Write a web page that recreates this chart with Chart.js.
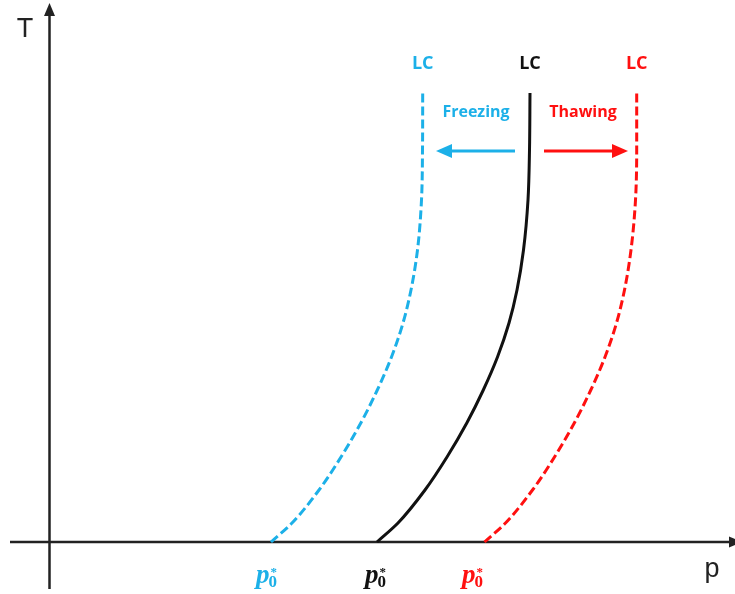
<!DOCTYPE html>
<html>
<head>
<meta charset="utf-8">
<script src="https://cdn.jsdelivr.net/npm/chart.js@4.4.0/dist/chart.umd.min.js"></script>
<style>
  html, body { margin: 0; padding: 0; background: #fff; }
  #wrap { width: 735px; height: 594px; position: relative; }
</style>
</head>
<body>
<div id="wrap"><canvas id="chart"></canvas></div>
<script>
// curves: T levels (y) and p for each curve (x), arbitrary units
const levelT = [0, 19, 52, 85, 119, 152, 185, 219, 252, 292, 342, 392, 449];

const blackP = [327.5, 348.5, 375.5, 397.5, 417.3, 433.8, 448, 459.5, 467.5, 474, 478.5, 480, 480.5];
const blueP = [221.5, 242.5, 269.5, 291.5, 311.3, 327.8, 342, 353.5, 361.5, 368, 372, 373, 373.2];
const redP = [435, 456, 483, 505, 524.8, 541.3, 555.5, 567, 575, 581.5, 586, 587.2, 587.2];

const BLUE = "#1cb0e8";
const RED = "#ff1010";
const BLACK = "#111111";

function toPoints(ps, ts) {
  return ps.map((p, i) => ({ x: p, y: ts[i] }));
}

function arrowHead(ctx, x, y, dir, len, half) {
  ctx.beginPath();
  if (dir === "up") {
    ctx.moveTo(x, y);
    ctx.lineTo(x - half, y + len);
    ctx.lineTo(x + half, y + len);
  } else if (dir === "right") {
    ctx.moveTo(x, y);
    ctx.lineTo(x - len, y - half);
    ctx.lineTo(x - len, y + half);
  } else {
    ctx.moveTo(x, y);
    ctx.lineTo(x + len, y - half);
    ctx.lineTo(x + len, y + half);
  }
  ctx.closePath();
  ctx.fill();
}

function drawP0(ctx, x, color) {
  ctx.fillStyle = color;
  ctx.textAlign = "left";
  ctx.textBaseline = "alphabetic";
  ctx.font = 'italic bold 27px "Liberation Serif"';
  ctx.fillText("p", x, 583);
  const w = ctx.measureText("p").width;
  ctx.font = 'bold 17px "Liberation Serif"';
  ctx.fillText("0", x + w - 1, 587);
  ctx.font = 'bold 13px "Liberation Serif"';
  ctx.fillText("*", x + w + 1, 576);
}

const decor = {
  id: "decor",
  beforeDatasetsDraw(chart) {
    const ctx = chart.ctx;
    const xs = chart.scales.x, ys = chart.scales.y;
    const ox = xs.getPixelForValue(0), oy = ys.getPixelForValue(0);
    ctx.save();
    ctx.strokeStyle = "#222";
    ctx.fillStyle = "#222";
    ctx.lineWidth = 2.5;
    // x axis
    ctx.beginPath();
    ctx.moveTo(10, oy);
    ctx.lineTo(730, oy);
    ctx.stroke();
    arrowHead(ctx, 742, oy, "right", 13, 5.5);
    // y axis
    ctx.beginPath();
    ctx.moveTo(ox, 589);
    ctx.lineTo(ox, 14);
    ctx.stroke();
    arrowHead(ctx, ox, 3, "up", 13, 5.5);
    ctx.restore();
  },
  afterDatasetsDraw(chart) {
    const ctx = chart.ctx;
    const xs = chart.scales.x;
    ctx.save();
    // axis names
    ctx.fillStyle = "#222";
    ctx.textAlign = "center";
    ctx.textBaseline = "alphabetic";
    ctx.font = '27px "Liberation Sans"';
    ctx.fillText("T", 25, 37);
    ctx.fillText("p", 712, 577);

    // LC labels above each curve top
    ctx.font = 'bold 18px "Open Sans"';
    ctx.fillStyle = BLUE;
    ctx.fillText("LC", xs.getPixelForValue(blueP[blueP.length - 1]), 69);
    ctx.fillStyle = BLACK;
    ctx.fillText("LC", xs.getPixelForValue(blackP[blackP.length - 1]), 69);
    ctx.fillStyle = RED;
    ctx.fillText("LC", xs.getPixelForValue(redP[redP.length - 1]), 69);

    // Freezing / Thawing
    ctx.font = 'bold 16px "Open Sans"';
    ctx.fillStyle = BLUE;
    ctx.fillText("Freezing", 476, 117);
    ctx.fillStyle = RED;
    ctx.fillText("Thawing", 583, 117);

    // arrows
    ctx.lineWidth = 3;
    ctx.strokeStyle = BLUE;
    ctx.fillStyle = BLUE;
    ctx.beginPath();
    ctx.moveTo(515, 151);
    ctx.lineTo(450, 151);
    ctx.stroke();
    arrowHead(ctx, 436, 151, "left", 16, 7);
    ctx.strokeStyle = RED;
    ctx.fillStyle = RED;
    ctx.beginPath();
    ctx.moveTo(544, 151);
    ctx.lineTo(614, 151);
    ctx.stroke();
    arrowHead(ctx, 628, 151, "right", 16, 7);

    // p0* labels
    drawP0(ctx, 256, BLUE);
    drawP0(ctx, 365, BLACK);
    drawP0(ctx, 462, RED);
    ctx.restore();
  }
};

const lineStyle = {
  borderWidth: 3,
  pointRadius: 0,
  cubicInterpolationMode: "monotone",
  fill: false
};

new Chart(document.getElementById("chart"), {
  type: "line",
  data: {
    datasets: [
      { ...lineStyle, label: "LC freezing", data: toPoints(blueP, levelT), borderColor: BLUE, borderDash: [9, 4] },
      { ...lineStyle, label: "LC", data: toPoints(blackP, levelT), borderColor: BLACK },
      { ...lineStyle, label: "LC thawing", data: toPoints(redP, levelT), borderColor: RED, borderDash: [9, 4] }
    ]
  },
  options: {
    indexAxis: "y",
    responsive: true,
    maintainAspectRatio: false,
    animation: false,
    layout: { padding: 0 },
    plugins: { legend: { display: false }, tooltip: { enabled: false } },
    scales: {
      x: { type: "linear", min: -49.5, max: 685.5, display: false },
      y: { type: "linear", min: -52, max: 542, display: false }
    }
  },
  plugins: [decor]
});
</script>
</body>
</html>
